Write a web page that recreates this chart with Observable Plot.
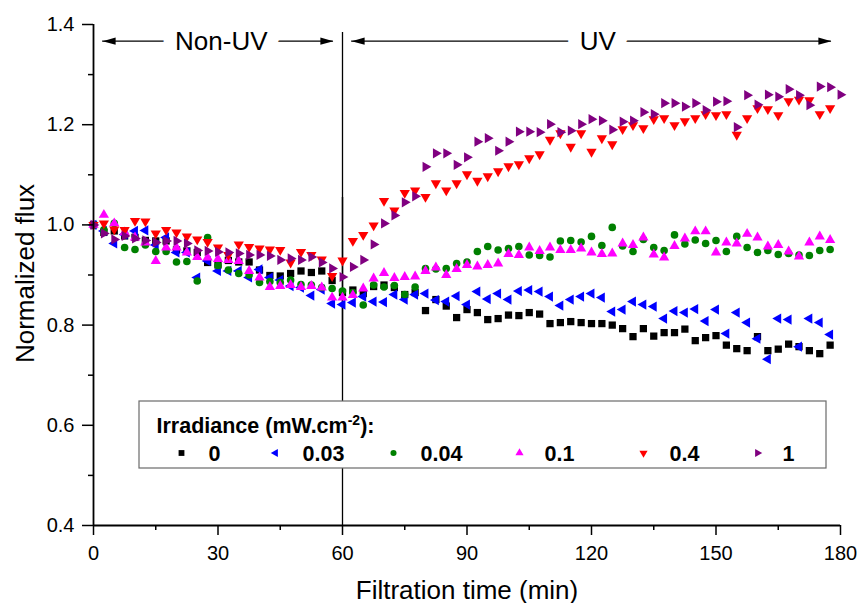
<!DOCTYPE html>
<html>
<head>
<meta charset="utf-8">
<script src="https://cdn.jsdelivr.net/npm/d3@7"></script>
<script src="https://cdn.jsdelivr.net/npm/@observablehq/plot@0.6"></script>
<style>
  html, body { margin: 0; padding: 0; background: #fff; }
  #chart svg { font-family: Arial, "Liberation Sans", sans-serif; display: block; }
</style>
</head>
<body>
<div id="chart"></div>
<script>
// ---------------- DATA ----------------
const time = [0, 2.5, 5, 7.5, 10, 12.5, 15, 17.5, 20, 22.5, 25, 27.5, 30, 32.5, 35, 37.5, 40, 42.5, 45, 47.5,
  50, 52.5, 55, 57.5, 60, 62.5, 65, 67.5, 70, 72.5, 75, 77.5, 80, 82.5, 85, 87.5, 90, 92.5, 95, 97.5,
  100, 102.5, 105, 107.5, 110, 112.5, 115, 117.5, 120, 122.5, 125, 127.5, 130, 132.5, 135, 137.5, 140, 142.5, 145, 147.5,
  150, 152.5, 155, 157.5, 160, 162.5, 165, 167.5, 170, 172.5, 175, 177.5, 180];

const irradiance = ["0", "0.03", "0.04", "0.1", "0.4", "1"];

const flux0 = [
  1.0, 0.985, 0.988, 0.978, 0.975, 0.969, 0.968, 0.968, 0.95, 0.948,
  0.945, 0.925, 0.92, 0.929, 0.926, 0.926, 0.91, 0.899, 0.898, 0.903,
  0.908, 0.905, 0.908, 0.889, 0.865, 0.87, 0.863, 0.877, 0.88, 0.875,
  0.861, 0.865, 0.829, 0.851, 0.838, 0.815, 0.831, 0.825, 0.811, 0.813,
  0.82, 0.819, 0.825, 0.822, 0.803, 0.805, 0.807, 0.805, 0.803, 0.803,
  0.8, 0.793, 0.777, 0.793, 0.778, 0.785, 0.785, 0.792, 0.769, 0.775,
  0.779, 0.76, 0.753, 0.749, 0.777, 0.749, 0.752, 0.762, 0.757, 0.749,
  0.743, 0.76];

const flux003 = [
  1.0, 0.988, 0.963, 0.981, 0.988, 0.989, 0.96, 0.975, 0.945, 0.945,
  0.895, 0.928, 0.908, 0.908, 0.908, 0.895, 0.911, 0.895, 0.89, 0.878,
  0.875, 0.859, 0.871, 0.843, 0.841, 0.845, 0.857, 0.847, 0.846, 0.861,
  0.851, 0.861, 0.863, 0.85, 0.847, 0.858, 0.841, 0.867, 0.852, 0.863,
  0.851, 0.868, 0.87, 0.867, 0.857, 0.839, 0.851, 0.857, 0.863, 0.855,
  0.827, 0.831, 0.847, 0.841, 0.837, 0.813, 0.828, 0.825, 0.832, 0.808,
  0.831, 0.783, 0.825, 0.805, 0.773, 0.732, 0.813, 0.811, 0.757, 0.813,
  0.805, 0.781];

const flux004 = [
  1.0, 0.99, 1.003, 0.955, 0.951, 0.96, 0.947, 0.947, 0.926, 0.927,
  0.888, 0.975, 0.919, 0.91, 0.903, 0.9, 0.885, 0.887, 0.885, 0.89,
  0.881, 0.88, 0.875, 0.873, 0.868, 0.865, 0.84, 0.88, 0.876, 0.879,
  0.861, 0.876, 0.913, 0.912, 0.913, 0.923, 0.926, 0.947, 0.957, 0.95,
  0.953, 0.957, 0.94, 0.939, 0.936, 0.968, 0.969, 0.966, 0.977, 0.959,
  0.995, 0.958, 0.947, 0.971, 0.955, 0.949, 0.98, 0.962, 0.97, 0.963,
  0.969, 0.947, 0.977, 0.955, 0.945, 0.949, 0.941, 0.943, 0.94, 0.939,
  0.949, 0.951];

const flux01 = [
  1.0, 1.02, 1.003, 0.985, 0.975, 0.965, 0.928, 0.955, 0.955, 0.945,
  0.936, 0.935, 0.932, 0.93, 0.928, 0.908, 0.895, 0.876, 0.878, 0.88,
  0.876, 0.878, 0.875, 0.855, 0.855, 0.86, 0.873, 0.893, 0.904, 0.894,
  0.896, 0.897, 0.908, 0.915, 0.9, 0.912, 0.92, 0.917, 0.92, 0.923,
  0.942, 0.94, 0.955, 0.948, 0.955, 0.95, 0.95, 0.953, 0.945, 0.942,
  0.943, 0.963, 0.96, 0.975, 0.941, 0.935, 0.958, 0.973, 0.987, 0.987,
  0.945, 0.965, 0.963, 0.982, 0.975, 0.957, 0.96, 0.947, 0.937, 0.965,
  0.977, 0.97];

const flux04 = [
  1.0, 1.003, 0.991, 0.99, 1.008, 1.007, 0.983, 0.99, 0.985, 0.977,
  0.971, 0.966, 0.955, 0.94, 0.961, 0.956, 0.953, 0.951, 0.95, 0.925,
  0.946, 0.94, 0.931, 0.898, 0.929, 0.968, 0.98, 0.999, 1.048, 1.029,
  1.064, 1.069, 1.056, 1.083, 1.069, 1.083, 1.101, 1.088, 1.097, 1.107,
  1.117, 1.121, 1.133, 1.141, 1.17, 1.183, 1.156, 1.183, 1.146, 1.173,
  1.161, 1.191, 1.199, 1.193, 1.211, 1.213, 1.199, 1.207, 1.213, 1.221,
  1.219, 1.221, 1.18, 1.213, 1.233, 1.231, 1.219, 1.247, 1.25, 1.249,
  1.221, 1.233];

const flux1 = [
  1.0, 0.983, 0.971, 0.978, 0.973, 0.969, 0.965, 0.968, 0.968, 0.963,
  0.949, 0.948, 0.946, 0.945, 0.943, 0.94, 0.94, 0.938, 0.93, 0.933,
  0.93, 0.936, 0.925, 0.913, 0.896, 0.916, 0.93, 0.961, 1.003, 1.019,
  1.045, 1.057, 1.116, 1.143, 1.143, 1.12, 1.135, 1.166, 1.173, 1.148,
  1.166, 1.186, 1.186, 1.185, 1.201, 1.185, 1.188, 1.201, 1.211, 1.208,
  1.19, 1.206, 1.208, 1.225, 1.221, 1.243, 1.243, 1.236, 1.243, 1.229,
  1.246, 1.247, 1.195, 1.259, 1.24, 1.26, 1.256, 1.271, 1.259, 1.239,
  1.276, 1.275, 1.26];

const seriesValues = [flux0, flux003, flux004, flux01, flux04, flux1];

const xTicks = [0, 30, 60, 90, 120, 150, 180];
const xMinorTicks = [15, 45, 75, 105, 135, 165];
const yTicks = [0.4, 0.6, 0.8, 1.0, 1.2, 1.4];
const yMinorTicks = [0.5, 0.7, 0.9, 1.1, 1.3];

const phases = [
  {label: "Non-UV", from: 0, to: 60},
  {label: "UV", from: 60, to: 180}
];

// ---------------- STYLE / LAYOUT ----------------
const colors = ["#000000", "#0000ff", "#008000", "#ff00ff", "#ff0000", "#800080"];
const symbols = ["square", "triangle", "circle", "triangle", "triangle", "triangle"];
const rotations = [0, -90, 0, 0, 180, 90];
const radii = [4.1, 3.8, 3.8, 3.8, 3.8, 3.8];

const W = 862, H = 603, ML = 93, MR = 22, MT = 24, MB = 78;
const xPx = d3.scaleLinear([0, 180], [ML, W - MR]);
const yPx = d3.scaleLinear([0.4, 1.4], [H - MB, MT]);
const TICK_FONT = 20;

// legend layout (pixels)
const legendBox = {x1: 139, x2: 826, y1: 401, y2: 468};
const legendSymX = [181, 275, 393, 519, 643, 757];
const legendTextX = [208, 302, 420, 544, 669, 782];
const legendTitle = "Irradiance (mW.cm-2):";

// arrow heads: tip at origin, pointing right
const arrowHead = {
  draw(ctx) {
    ctx.moveTo(0, 0);
    ctx.lineTo(-13, -3.6);
    ctx.lineTo(-13, 3.6);
    ctx.closePath();
  }
};
const arrowTipInset = 2.2; // minutes between phase border and arrow tip
const arrowY = yPx.invert(40.7);

// ---------------- BUILD ----------------
const dotMarks = seriesValues.map((vals, i) =>
  Plot.dot(vals.map((v, k) => ({t: time[k], v, s: irradiance[i]})), {
    x: "t", y: "v",
    symbol: symbols[i], rotate: rotations[i], r: radii[i],
    fill: colors[i], stroke: "none"
  })
);

const arrowLines = phases.map(p => ({y: arrowY, x1: p.from + arrowTipInset, x2: p.to - arrowTipInset}));
const heads = phases.flatMap(p => [
  {x: p.from + arrowTipInset, rot: 180},
  {x: p.to - arrowTipInset, rot: 0}
]);

const legendItems = irradiance.map((s, i) => ({s, i}));

const chart = Plot.plot({
  width: W, height: H,
  marginLeft: ML, marginRight: MR, marginTop: MT, marginBottom: MB,
  x: {domain: [0, 180], label: null},
  y: {domain: [0.4, 1.4], label: null},
  style: {fontFamily: "Arial, 'Liberation Sans', sans-serif", background: "white", color: "black", overflow: "visible"},
  marks: [
    // faint grey drop line segment + black divider at t = 60
    Plot.ruleX([60], {y1: () => yPx.invert(360), y2: () => yPx.invert(197), stroke: "#8a8a8a", strokeWidth: 2}),
    Plot.ruleX([60], {y1: () => 0.4, y2: () => yPx.invert(32), stroke: "black", strokeWidth: 1.3}),
    // phase arrows
    Plot.ruleY(arrowLines, {y: "y", x1: "x1", x2: "x2", stroke: "black", strokeWidth: 1.2}),
    Plot.dot(heads, {x: "x", y: () => arrowY, symbol: arrowHead, rotate: "rot", fill: "black", stroke: "none"}),
    Plot.text(phases, {
      x: d => (d.from + d.to) / 2 + (d.label === "UV" ? 1.5 : 0.8), y: () => arrowY, text: "label",
      fontSize: 26, fill: "black", stroke: "white", strokeWidth: 27, lineAnchor: "middle"
    }),
    // data
    ...dotMarks,
    // axes: tick marks
    Plot.axisX({ticks: xTicks, tickSize: 10, tickFormat: () => "", label: null, strokeWidth: 1.5}),
    Plot.axisX({ticks: xMinorTicks, tickSize: 5, tickFormat: () => "", label: null, strokeWidth: 1.5}),
    Plot.axisY({ticks: yTicks, tickSize: 11, tickFormat: () => "", label: null, strokeWidth: 1.5}),
    Plot.axisY({ticks: yMinorTicks, tickSize: 5, tickFormat: () => "", label: null, strokeWidth: 1.5}),
    Plot.ruleX([0], {stroke: "black", strokeWidth: 1.8}),
    Plot.ruleY([0.4], {stroke: "black", strokeWidth: 1.8}),
    // axes: tick labels
    Plot.text(xTicks, {x: d => d, frameAnchor: "bottom", dy: 20, lineAnchor: "top", textAnchor: "middle",
      text: d => String(d), fontSize: TICK_FONT, fill: "black"}),
    Plot.text(yTicks, {y: d => d, frameAnchor: "left", dx: -19, lineAnchor: "middle", textAnchor: "end",
      text: d => d3.format(".1f")(d), fontSize: TICK_FONT, fill: "black"}),
    // axis titles
    Plot.text(["Filtration time (min)"], {frameAnchor: "bottom", dy: 73, lineAnchor: "bottom", textAnchor: "middle", fontSize: 26, fill: "black"}),
    Plot.text(["Normalized flux"], {
      x: () => xPx.invert(33), y: () => yPx.invert(273), rotate: -90,
      lineAnchor: "bottom", textAnchor: "middle", fontSize: 26, fill: "black"
    }),
    // legend
    Plot.rect([legendBox], {
      x1: d => xPx.invert(d.x1), x2: d => xPx.invert(d.x2),
      y1: d => yPx.invert(d.y2), y2: d => yPx.invert(d.y1),
      fill: "white", stroke: "#6a6a6a", strokeWidth: 1.2
    }),
    Plot.text([legendTitle], {
      x: () => xPx.invert(156), y: () => yPx.invert(432), textAnchor: "start", lineAnchor: "bottom",
      fontWeight: "bold", fontSize: 21.5, fill: "black"
    }),
    ...legendItems.map(d => Plot.dot([d], {
      x: () => xPx.invert(legendSymX[d.i]), y: () => yPx.invert(452.5),
      symbol: symbols[d.i], rotate: rotations[d.i], r: radii[d.i] * 0.8,
      fill: colors[d.i], stroke: "none"
    })),
    Plot.text(legendItems, {
      x: d => xPx.invert(legendTextX[d.i]), y: () => yPx.invert(460), text: "s",
      textAnchor: "start", lineAnchor: "bottom", fontWeight: "bold", fontSize: 21.5, fill: "black"
    })
  ]
});

document.getElementById("chart").appendChild(chart);

// make sure the rotated axis title is centred on its anchor
[...chart.querySelectorAll("text")].filter(e => e.textContent === "Normalized flux").forEach(e => {
  e.setAttribute("text-anchor", "middle");
  if (e.parentNode) e.parentNode.setAttribute("text-anchor", "middle");
});

// superscript in legend title
const titleNode = [...chart.querySelectorAll("text")].find(e => e.textContent === legendTitle);
if (titleNode) {
  titleNode.textContent = "";
  const ns = "http://www.w3.org/2000/svg";
  const parts = [["Irradiance (mW.cm", null, null], ["-2", "-8", "14"], ["):", "8", null]];
  for (const [txt, dy, fs] of parts) {
    const ts = document.createElementNS(ns, "tspan");
    ts.textContent = txt;
    if (dy) ts.setAttribute("dy", dy);
    if (fs) ts.setAttribute("font-size", fs);
    titleNode.appendChild(ts);
  }
}
</script>
</body>
</html>
